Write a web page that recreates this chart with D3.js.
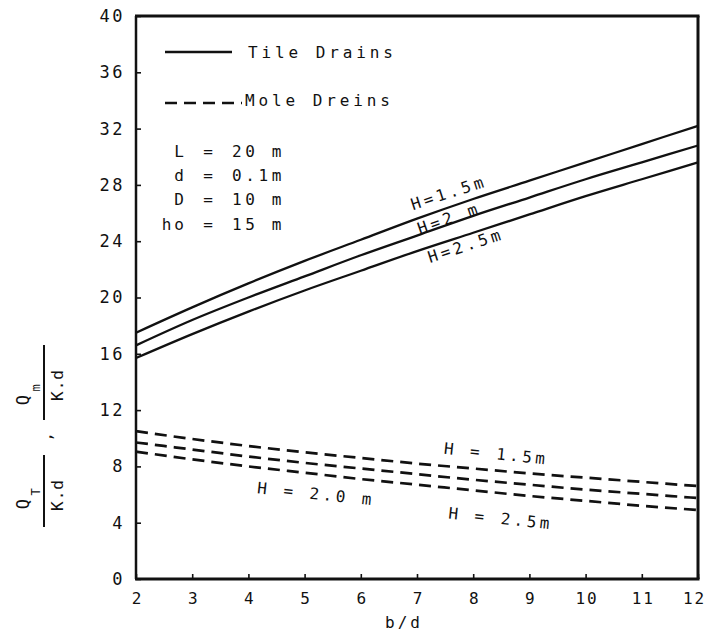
<!DOCTYPE html>
<html>
<head>
<meta charset="utf-8">
<script src="https://cdn.jsdelivr.net/npm/d3@7/dist/d3.min.js"></script>
<style>
  html, body { margin: 0; padding: 0; background: #fff; }
  svg { display: block; }
  text { font-family: "DejaVu Sans Mono", "Liberation Mono", monospace; fill: #111; }
</style>
</head>
<body>
<svg id="chart" width="707" height="634"></svg>
<script>
// ---------- data ----------
const bOverD = [2, 3, 4, 5, 6, 7, 8, 9, 10, 11, 12];
// Tile drains (solid)
const tileH15 = [17.5, 19.3, 21.0, 22.6, 24.1, 25.6, 27.0, 28.3, 29.6, 30.9, 32.2];
const tileH20 = [16.6, 18.4, 20.0, 21.5, 23.0, 24.4, 25.8, 27.1, 28.4, 29.6, 30.8];
const tileH25 = [15.7, 17.4, 19.0, 20.5, 21.9, 23.3, 24.6, 25.9, 27.2, 28.4, 29.6];
// Mole drains (dashed)
const moleH15 = [10.5, 9.95, 9.45, 9.0, 8.6, 8.2, 7.85, 7.5, 7.2, 6.9, 6.6];
const moleH20 = [9.7, 9.2, 8.7, 8.25, 7.85, 7.45, 7.05, 6.7, 6.35, 6.05, 5.75];
const moleH25 = [9.05, 8.5, 8.0, 7.55, 7.1, 6.7, 6.3, 5.9, 5.55, 5.2, 4.9];

const xTickValues = [2, 3, 4, 5, 6, 7, 8, 9, 10, 11, 12];
const yTickValues = [0, 4, 8, 12, 16, 20, 24, 28, 32, 36, 40];

const legendLabels = ["Tile Drains", "Mole Dreins"];
const paramNames = ["L", "d", "D", "ho"];
const paramValues = ["20 m", "0.1m", "10 m", "15 m"];
const xAxisTitle = "b/d";

(function () {
// ---------- layout ----------
const svg = d3.select("#chart");
const pL = 136, pR = 698, pT = 16, pB = 579;
const x = d3.scaleLinear().domain([2, 12]).range([pL, pR]);
const y = d3.scaleLinear().domain([0, 40]).range([pB, pT]);

const line = d3.line()
  .x((d, i) => x(bOverD[i]))
  .y(d => y(d))
  .curve(d3.curveMonotoneX);

// axes (inward ticks)
const xAxis = d3.axisBottom(x).tickValues(xTickValues).tickSizeInner(-5).tickSizeOuter(0).tickPadding(14)
  .tickFormat(d3.format("d"));
const yAxis = d3.axisLeft(y).tickValues(yTickValues).tickSizeInner(-5).tickSizeOuter(0).tickPadding(11)
  .tickFormat(d3.format("d"));

const gx = svg.append("g").attr("transform", `translate(0,${pB})`).call(xAxis);
const gy = svg.append("g").attr("transform", `translate(${pL},0)`).call(yAxis);
[gx, gy].forEach(g => {
  g.select(".domain").remove();
  g.selectAll(".tick line").attr("stroke", "#111").attr("stroke-width", 1.6);
  g.selectAll(".tick text")
    .attr("font-family", "DejaVu Sans Mono")
    .attr("font-size", 17)
    .attr("fill", "#111")
    .style("letter-spacing", "2.5px");
});
gx.selectAll(".tick text").attr("dy", "0.71em").attr("font-size", 16).style("letter-spacing", "2px")
  .attr("dx", d => d === 12 ? -4 : 1);

// frame
const frame = svg.append("g").attr("stroke", "#111").attr("fill", "none");
frame.append("line").attr("x1", pL).attr("x2", pL).attr("y1", pT).attr("y2", pB).attr("stroke-width", 2.5);
frame.append("line").attr("x1", pL - 1).attr("x2", pR + 1.5).attr("y1", pB).attr("y2", pB).attr("stroke-width", 3);
frame.append("line").attr("x1", pL - 1).attr("x2", pR + 1.5).attr("y1", pT).attr("y2", pT).attr("stroke-width", 3);
frame.append("line").attr("x1", pR).attr("x2", pR).attr("y1", pT).attr("y2", pB).attr("stroke-width", 3);

// curves
const plot = svg.append("g");
[tileH15, tileH20, tileH25].forEach(s => {
  plot.append("path").datum(s).attr("d", line)
    .attr("fill", "none").attr("stroke", "#111").attr("stroke-width", 2.3);
});
[moleH15, moleH20, moleH25].forEach(s => {
  plot.append("path").datum(s).attr("d", line)
    .attr("fill", "none").attr("stroke", "#111").attr("stroke-width", 2.7)
    .attr("stroke-dasharray", "12,7");
});

// curve labels
const ls = "3.5px";
function label(txt, bx, v, rot, fs) {
  const px = x(bx), py = y(v);
  plot.append("text").text(txt)
    .attr("transform", `translate(${px},${py}) rotate(${rot})`)
    .attr("font-size", fs || 16)
    .style("letter-spacing", ls);
}
label("H=1.5m", 6.93, 26.2, -18);
label("H=2 m", 7.05, 24.5, -19);
label("H=2.5m", 7.23, 22.45, -18);
label("H = 1.5m", 7.47, 8.9, 6);
label("H = 2.0 m", 4.15, 6.1, 6);
label("H = 2.5m", 7.55, 4.3, 6);

// legend
const leg = svg.append("g");
leg.append("line").attr("x1", 165).attr("x2", 232).attr("y1", 52).attr("y2", 52)
  .attr("stroke", "#111").attr("stroke-width", 2.5);
leg.append("line").attr("x1", 165).attr("x2", 242).attr("y1", 103).attr("y2", 103)
  .attr("stroke", "#111").attr("stroke-width", 2.5).attr("stroke-dasharray", "12,7");
leg.append("text").text(legendLabels[0]).attr("x", 248).attr("y", 58)
  .attr("font-size", 16).style("letter-spacing", "3.9px");
leg.append("text").text(legendLabels[1]).attr("x", 245).attr("y", 106)
  .attr("font-size", 16).style("letter-spacing", "3.9px");

// parameters
paramNames.forEach((n, i) => {
  const by = 157 + i * 24.2;
  leg.append("text").text(n).attr("x", 187).attr("y", by).attr("text-anchor", "end")
    .attr("font-size", 16).style("letter-spacing", "3px");
  leg.append("text").text("=").attr("x", 208).attr("y", by).attr("text-anchor", "middle")
    .attr("font-size", 16);
  leg.append("text").text(paramValues[i]).attr("x", 232).attr("y", by)
    .attr("font-size", 16).style("letter-spacing", "3.6px");
});

// x axis title
svg.append("text").text(xAxisTitle).attr("x", 404).attr("y", 628).attr("text-anchor", "middle")
  .attr("font-size", 16).style("letter-spacing", "3px");

// y axis title (rotated fractions)
const yt = svg.append("g").attr("transform", "translate(44,0) rotate(-90)");
function frac(x1, x2, num, sub, numX, den, denX) {
  yt.append("line").attr("x1", x1).attr("x2", x2).attr("y1", 0).attr("y2", 0)
    .attr("stroke", "#111").attr("stroke-width", 2);
  yt.append("text").text(num).attr("x", numX).attr("y", -15).attr("text-anchor", "middle").attr("font-size", 17);
  yt.append("text").text(sub).attr("x", numX + 12).attr("y", -4).attr("text-anchor", "middle").attr("font-size", 12);
  yt.append("text").text(den).attr("x", denX).attr("y", 19).attr("text-anchor", "middle")
    .attr("font-size", 16).style("letter-spacing", "1px");
}
frac(-527, -455, "Q", "T", -504, "K.d", -495);
frac(-420, -345, "Q", "m", -400, "K.d", -385);
yt.append("text").text(",").attr("x", -437).attr("y", 8).attr("text-anchor", "middle").attr("font-size", 16);
})();
</script>
</body>
</html>
